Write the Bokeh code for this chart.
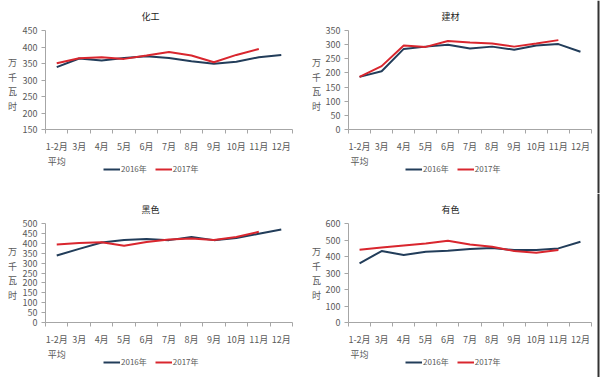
from bokeh.plotting import figure
from bokeh.layouts import gridplot
from bokeh.models import Range1d, FixedTicker, Legend, LegendItem, Label, Span
from bokeh.embed import file_html
from bokeh.resources import INLINE

months = ["1-2月\n平均", "3月", "4月", "5月", "6月", "7月", "8月", "9月", "10月", "11月", "12月"]
unit_label = "万千瓦时"

chem_2016 = [339, 365, 359, 367, 372, 367, 357, 349, 355, 369, 376]
chem_2017 = [351, 366, 369, 364, 374, 385, 374, 354, 376, 394]

build_2016 = [186, 206, 285, 293, 300, 286, 293, 282, 297, 302, 275]
build_2017 = [186, 224, 297, 292, 313, 308, 304, 293, 304, 316]

ferrous_2016 = [338, 372, 404, 417, 422, 416, 432, 416, 427, 448, 470]
ferrous_2017 = [394, 402, 405, 388, 407, 419, 424, 417, 432, 458]

nonferrous_2016 = [359, 433, 409, 429, 435, 445, 451, 439, 439, 449, 489]
nonferrous_2017 = [441, 455, 467, 479, 495, 473, 459, 433, 423, 439]

panels = [
    ("化工", chem_2016, chem_2017, 150, 450, 50),
    ("建材", build_2016, build_2017, 0, 350, 50),
    ("黑色", ferrous_2016, ferrous_2017, 0, 500, 50),
    ("有色", nonferrous_2016, nonferrous_2017, 0, 600, 100),
]

C16 = "#223d5a"
C17 = "#d9262e"
AX = "#a6a6a6"
TXT = "#595959"
FONT = "Noto Sans CJK SC"
W = 300


def make(idx, title, s16, s17, ymin, ymax, ystep):
    left_col = idx % 2 == 0
    top_row = idx < 2
    h = 193 if top_row else 184
    # plot-area edges in canvas pixels
    pl = 45 if left_col else 48
    pr = 292 if left_col else 291
    pt = 30
    pb = 129
    n = len(months)
    xppu = (pr - pl) / n
    yupp = (ymax - ymin) / (pb - pt)
    xr = Range1d(0.5 - pl / xppu, n + 0.5 + (W - pr) / xppu)
    yr = Range1d(ymin - (h - pb) * yupp, ymax + pt * yupp)

    p = figure(width=W, height=h, output_backend="svg", toolbar_location=None,
               x_range=xr, y_range=yr,
               min_border=0, min_border_left=0, min_border_right=0,
               min_border_top=0, min_border_bottom=0)
    p.outline_line_color = None
    p.grid.visible = False
    p.background_fill_color = "white"
    p.border_fill_color = "white"

    xs = list(range(1, n + 1))
    r16 = p.line(xs[:len(s16)], s16, line_color=C16, line_width=2)
    r17 = p.line(xs[:len(s17)], s17, line_color=C17, line_width=2)

    xa = p.xaxis[0]
    xa.fixed_location = ymin
    xa.bounds = (0.5, n + 0.5)
    xa.ticker = FixedTicker(ticks=xs, minor_ticks=[x - 0.5 for x in xs] + [n + 0.5])
    xa.major_label_overrides = {x: m for x, m in zip(xs, months)}
    xa.major_tick_line_color = None
    xa.minor_tick_line_color = AX
    xa.minor_tick_out = 4
    xa.minor_tick_in = 0
    xa.axis_line_color = AX
    xa.major_label_text_font = FONT
    xa.major_label_text_font_size = "9px"
    xa.major_label_text_color = TXT
    xa.major_label_standoff = 4

    ya = p.yaxis[0]
    ya.fixed_location = 0.5
    ya.bounds = (ymin, ymax)
    ya.ticker = FixedTicker(ticks=list(range(ymin, ymax + 1, ystep)))
    ya.minor_tick_line_color = None
    ya.major_tick_line_color = AX
    ya.major_tick_out = 4
    ya.major_tick_in = 0
    ya.axis_line_color = AX
    ya.major_label_text_font = FONT
    ya.major_label_text_font_size = "9px"
    ya.major_label_text_color = TXT
    ya.major_label_standoff = 4

    # title
    p.add_layout(Label(x=150, y=h - 16, x_units="screen", y_units="screen", text=title,
                       text_align="center", text_baseline="middle", text_font=FONT,
                       text_font_size="9px", text_color="#222222"))
    # unit label, stacked characters
    ux = 12 if left_col else 16
    uy = h - (84 if top_row else 80)
    p.add_layout(Label(x=ux, y=uy, x_units="screen", y_units="screen",
                       text="\n".join(unit_label),
                       text_align="center", text_baseline="middle", text_font=FONT,
                       text_font_size="9px", text_color=TXT, text_line_height=1.15))

    leg = Legend(items=[LegendItem(label="2016年", renderers=[r16]),
                        LegendItem(label="2017年", renderers=[r17])],
                 orientation="horizontal",
                 location=(103 if left_col else 105, h - 174),
                 padding=0, margin=0,
                 spacing=8, glyph_width=17, glyph_height=10, label_height=10,
                 label_standoff=1, label_text_font=FONT, label_text_font_size="8px",
                 label_text_color=TXT, border_line_color=None, background_fill_alpha=0)
    p.add_layout(leg, "center")

    if not left_col:
        p.add_layout(Span(location=xr.end - 2 / xppu, dimension="height",
                          line_color="#333333", line_width=2))
    return p


figs = [make(i, *pp) for i, pp in enumerate(panels)]
grid = gridplot([[figs[0], figs[1]], [figs[2], figs[3]]], toolbar_location=None)

open("out.html", "w").write(file_html(grid, INLINE))
